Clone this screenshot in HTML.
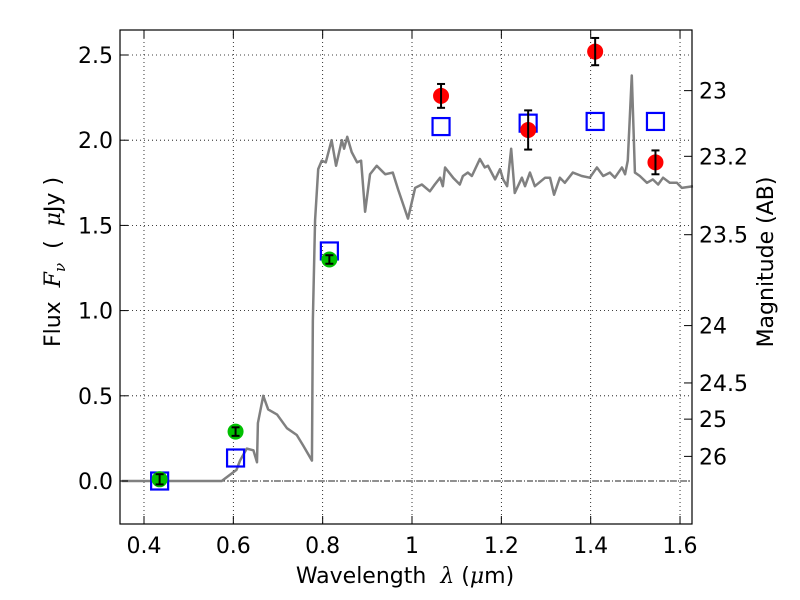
<!DOCTYPE html>
<html><head><meta charset="utf-8"><style>
body{margin:0;background:#fff;}
svg{display:block;font-family:"DejaVu Sans","Liberation Sans",sans-serif;}
</style></head><body>
<svg id="chart" width="800" height="600" viewBox="0 0 800 600" xmlns="http://www.w3.org/2000/svg"></svg>
<script>
const specLam=[0.35,0.574,0.607,0.615,0.63,0.645,0.653,0.655,0.667,0.678,0.698,0.72,0.742,0.756,0.776,0.778,0.783,0.79,0.798,0.807,0.82,0.83,0.843,0.848,0.855,0.865,0.877,0.886,0.895,0.906,0.921,0.94,0.957,0.969,0.991,1.007,1.022,1.04,1.051,1.063,1.069,1.074,1.092,1.107,1.114,1.125,1.134,1.152,1.163,1.17,1.186,1.197,1.204,1.213,1.222,1.23,1.246,1.253,1.264,1.275,1.298,1.309,1.318,1.331,1.342,1.36,1.38,1.398,1.414,1.428,1.443,1.454,1.47,1.477,1.483,1.492,1.499,1.51,1.526,1.539,1.551,1.562,1.577,1.593,1.604,1.629];
const specFlux=[0,0,0.065,0.12,0.19,0.18,0.11,0.34,0.5,0.42,0.39,0.31,0.27,0.21,0.12,0.94,1.53,1.83,1.88,1.87,2.0,1.85,2.0,1.95,2.02,1.93,1.87,1.88,1.58,1.8,1.85,1.8,1.81,1.71,1.54,1.72,1.74,1.7,1.74,1.78,1.73,1.84,1.78,1.74,1.79,1.81,1.79,1.89,1.84,1.85,1.77,1.83,1.77,1.73,1.95,1.69,1.78,1.73,1.81,1.73,1.78,1.78,1.68,1.78,1.75,1.81,1.79,1.78,1.84,1.79,1.81,1.78,1.84,1.8,1.88,2.38,1.81,1.79,1.75,1.77,1.74,1.78,1.75,1.75,1.72,1.73];
const redLam=[1.065,1.26,1.41,1.545];
const redFlux=[2.26,2.06,2.52,1.87];
const redErr=[0.07,0.115,0.08,0.07];
const greenLam=[0.435,0.605,0.815];
const greenFlux=[0.01,0.29,1.30];
const greenErr=[0.03,0.025,0.025];
const modelLam=[0.435,0.605,0.815,1.065,1.26,1.41,1.545];
const modelFlux=[0.0,0.135,1.35,2.08,2.10,2.11,2.11];
const xTicks=[0.4,0.6,0.8,1.0,1.2,1.4,1.6];
const xTickLabels=["0.4","0.6","0.8","1","1.2","1.4","1.6"];
const yTicks=[0,0.5,1,1.5,2,2.5];
const yTickLabels=["0.0","0.5","1.0","1.5","2.0","2.5"];
const magTicks=[23,23.2,23.5,24,24.5,25,26];
const magTickLabels=["23","23.2","23.5","24","24.5","25","26"];

const L=120,R=692,T=30,B=524;
const xMin=0.3463,xMax=1.6268,yMin=-0.2523,yMax=2.6467;
const X=v=>L+(v-xMin)/(xMax-xMin)*(R-L);
const Y=v=>B-(v-yMin)/(yMax-yMin)*(B-T);
const magToFlux=m=>Math.pow(10,(23.9-m)/2.5);
const svg=document.getElementById('chart');
const NS='http://www.w3.org/2000/svg';
function mk(tag,attrs,parent){const e=document.createElementNS(NS,tag);for(const k in attrs)e.setAttribute(k,attrs[k]);(parent||svg).appendChild(e);return e;}

const grid=mk('g',{});


xTicks.forEach(v=>mk('line',{x1:X(v),x2:X(v),y1:T,y2:B,stroke:'#000','stroke-width':0.8,'stroke-dasharray':'1,3'},grid));
yTicks.forEach(v=>mk('line',{x1:L,x2:R,y1:Y(v),y2:Y(v),stroke:'#000','stroke-width':0.8,'stroke-dasharray':'1,3'},grid));
const zl=mk('line',{x1:L,x2:R,y1:Y(0),y2:Y(0),stroke:'#222','stroke-width':0.9,'stroke-dasharray':'6,2,1,2'});



const sp=mk('polyline',{points:specLam.map((l,i)=>X(l)+','+Y(specFlux[i])).join(' '),fill:'none',stroke:'#808080','stroke-width':2.5,'stroke-linejoin':'round'});



modelLam.forEach((l,i)=>{const r=mk('rect',{x:X(l)-8.5,y:Y(modelFlux[i])-8.5,width:17,height:17,fill:'none',stroke:'#0000ff','stroke-width':2.2});

});

function pts(lams,fl,er,col,name){lams.forEach((l,i)=>{const g=mk('g',{});


mk('circle',{cx:X(l),cy:Y(fl[i]),r:8,fill:col},g);
const y1=Y(fl[i]+er[i]),y2=Y(fl[i]-er[i]);
mk('line',{x1:X(l),x2:X(l),y1:y1,y2:y2,stroke:'#000','stroke-width':2},g);
mk('line',{x1:X(l)-4,x2:X(l)+4,y1:y1,y2:y1,stroke:'#000','stroke-width':2},g);
mk('line',{x1:X(l)-4,x2:X(l)+4,y1:y2,y2:y2,stroke:'#000','stroke-width':2},g);});}
pts(greenLam,greenFlux,greenErr,'#00c000','green-photometry-point');
pts(redLam,redFlux,redErr,'#ff0000','red-photometry-point');

const fr=mk('rect',{x:L,y:T,width:R-L,height:B-T,fill:'none',stroke:'#000','stroke-width':1.2});



xTicks.forEach((v,i)=>{mk('line',{x1:X(v),x2:X(v),y1:B,y2:B-8,stroke:'#000'});mk('line',{x1:X(v),x2:X(v),y1:T,y2:T+8,stroke:'#000'});
const t=mk('text',{x:X(v),y:B+29,'font-size':22,'text-anchor':'middle'});t.textContent=xTickLabels[i];

});
yTicks.forEach((v,i)=>{mk('line',{x1:L,x2:L+8,y1:Y(v),y2:Y(v),stroke:'#000'});
const t=mk('text',{x:L-7,y:Y(v)+8,'font-size':22,'text-anchor':'end'});t.textContent=yTickLabels[i];

});
magTicks.forEach((m,i)=>{const y=Y(magToFlux(m));mk('line',{x1:R,x2:R-8,y1:y,y2:y,stroke:'#000'});
const t=mk('text',{x:R+7,y:y+8,'font-size':22,'text-anchor':'start'});t.textContent=magTickLabels[i];

});
</script>
<svg style="position:absolute;left:0;top:0" width="800" height="600">
<text x="405" y="583" font-size="22" text-anchor="middle" font-family="DejaVu Sans, sans-serif" xml:space="preserve">Wavelength  <tspan font-style="italic" font-family="DejaVu Serif, serif">λ</tspan> (<tspan font-style="italic" font-family="DejaVu Serif, serif">μ</tspan>m)</text>
<text transform="translate(60,262) rotate(-90)" font-size="22" text-anchor="middle" font-family="DejaVu Sans, sans-serif" xml:space="preserve">Flux  <tspan font-style="italic" font-family="DejaVu Serif, serif">F</tspan><tspan font-style="italic" font-size="15" dy="5" font-family="DejaVu Serif, serif">ν</tspan><tspan dy="-5">  (  </tspan><tspan font-style="italic" font-family="DejaVu Serif, serif">μ</tspan>Jy )</text>
<text transform="translate(773,262) rotate(-90)" font-size="22" text-anchor="middle" font-family="DejaVu Sans, sans-serif">Magnitude (AB)</text>
</svg>
</body></html>
